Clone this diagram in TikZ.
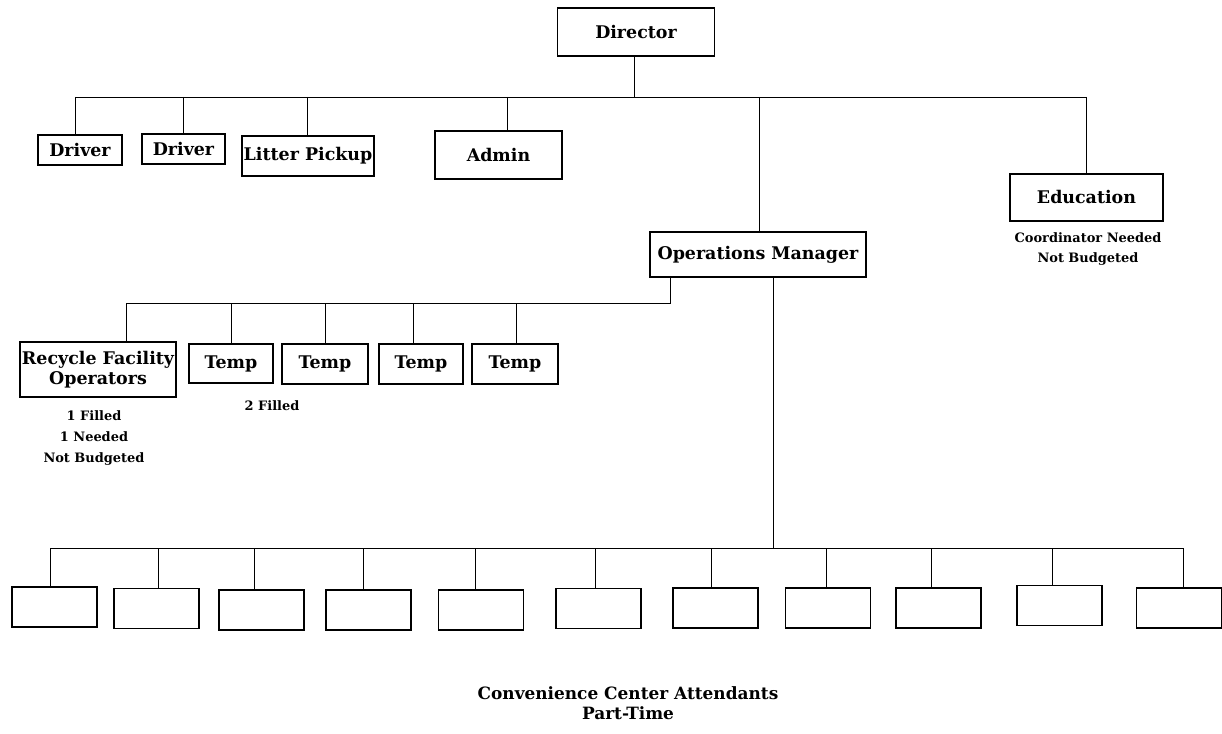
\documentclass[tikz,border=0pt]{standalone}
\usepackage{fontspec}
\setmainfont{DejaVu Serif}
\usetikzlibrary{positioning}

\begin{document}
\begin{tikzpicture}[x=1bp, y=-1bp, line width=1pt,
  box/.style={draw, line width=1.1pt, fill=white, align=center, inner sep=1pt, font=\fontsize{17.5}{20}\selectfont\bfseries},
  note/.style={align=center, inner sep=0pt, font=\fontsize{13}{21}\selectfont\bfseries}]
\useasboundingbox (0,0) rectangle (1222,734);
\node[box, minimum width=157bp, minimum height=48bp] (dir) at (636,32) {Director};
\node[box, minimum width=84bp, minimum height=30bp] (drv1) at (80,150) {Driver};
\node[box, minimum width=83bp, minimum height=30bp] (drv2) at (183.5,149) {Driver};
\node[box, minimum width=132bp, minimum height=40bp] (lit) at (308,156) {Litter Pickup};
\node[box, minimum width=127bp, minimum height=48bp] (adm) at (498.5,155) {Admin};
\node[box, minimum width=216bp, minimum height=45bp] (ops) at (758,254.5) {Operations Manager};
\node[box, minimum width=153bp, minimum height=47bp] (edu) at (1086.5,197.5) {Education};
\node[note] (edunote) at (1088,249) {Coordinator Needed\\Not Budgeted};
\node[box, minimum width=156bp, minimum height=55bp] (rec) at (98,369.5) {Recycle Facility\\Operators};
\node[note] (recnote) at (94,438) {1 Filled\\1 Needed\\Not Budgeted};
\node[box, minimum width=84bp, minimum height=39bp] (tmp1) at (231,363.5) {Temp};
\node[box, minimum width=86bp, minimum height=40bp] (tmp2) at (325,364) {Temp};
\node[box, minimum width=84bp, minimum height=40bp] (tmp3) at (421,364) {Temp};
\node[box, minimum width=86bp, minimum height=40bp] (tmp4) at (515,364) {Temp};
\node[note] (tmpnote) at (272,406) {2 Filled};
\foreach \n/\x/\y in {c1/54.5/607, c2/156.5/608.5, c3/261.5/610, c4/368.5/610, c5/481/610, c6/598.5/608.5,
  c7/715.5/608, c8/828/608, c9/938.5/608, c10/1059.5/605.5, c11/1179/608}
  \node[box, minimum width=85bp, minimum height=40bp] (\n) at (\x,\y) {};
\node[note, font=\fontsize{17}{20}\selectfont\bfseries] (cap) at (628,703) {Convenience Center Attendants\\Part-Time};
\coordinate (topbus) at (634,97);
\draw (dir.south -| topbus) -- (topbus);
\draw (75,97) -- (1086,97);
\foreach \n/\x in {drv1/75, drv2/183, lit/307, adm/507, ops/759, edu/1086} {
  \coordinate (t\n) at (\x,97);
  \draw (t\n) -- (t\n |- \n.north);
}
\coordinate (midbus) at (670,303);
\draw (ops.south -| midbus) -- (midbus) -- (126,303);
\foreach \n/\x in {rec/126, tmp1/231, tmp2/325, tmp3/413, tmp4/516} {
  \coordinate (m\n) at (\x,303);
  \draw (m\n) -- (m\n |- \n.north);
}
\coordinate (lowbus) at (773,548);
\draw (ops.south -| lowbus) -- (lowbus);
\draw (50,548) -- (1183,548);
\foreach \n/\x in {c1/50, c2/158, c3/254, c4/363, c5/475, c6/595, c7/711, c8/826, c9/931, c10/1052, c11/1183} {
  \coordinate (l\n) at (\x,548);
  \draw (l\n) -- (l\n |- \n.north);
}
\end{tikzpicture}
\end{document}
